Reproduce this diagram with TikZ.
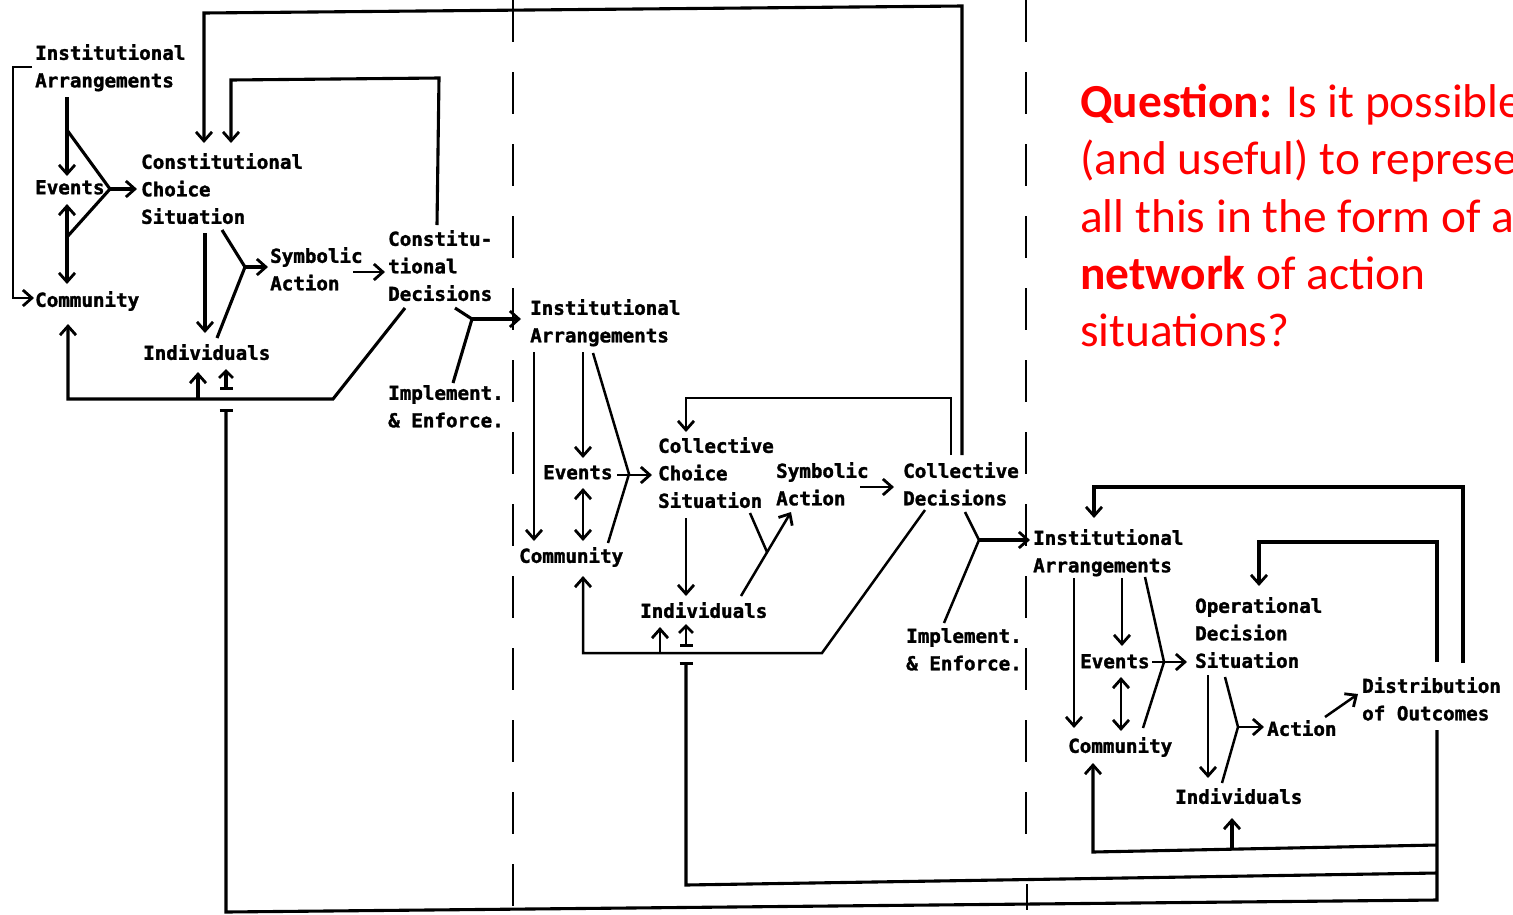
\documentclass[tikz,border=0pt]{standalone}
\usepackage{fontspec}
\newfontfamily\typefont{DejaVu Sans Mono Bold}[FakeBold=1.6]
\newfontfamily\slidefont{Carlito}
\usetikzlibrary{arrows.meta}
\definecolor{slidered}{RGB}{255,0,0}

\begin{document}
\begin{tikzpicture}[x=1pt,y=-1pt,
  lbl/.style={anchor=north west,inner sep=0pt,align=left,
    font=\typefont\fontsize{19.2}{27.5}\selectfont},
  ln/.style={line width=3.1pt},
  thinln/.style={line width=2.5pt},
  arr/.style={-{Straight Barb[length=9pt,width=16pt,line width=2.8pt]}},
  darr/.style={{Straight Barb[length=9pt,width=16pt,line width=2.8pt]}-{Straight Barb[length=9pt,width=16pt,line width=2.8pt]}},
  tee/.style={-{Bar[width=13pt,line width=2.8pt]}},
  barr/.style={{Bar[width=13pt,line width=2.8pt]}-{Straight Barb[length=7pt,width=14pt,line width=2.8pt]}},
  sep/.style={line width=2pt,dash pattern=on 42pt off 30pt},
  qline/.style={anchor=base west,inner sep=0pt,text=slidered,
    font=\slidefont\fontsize{47.4}{57.5}\selectfont}
]
\useasboundingbox (0,0) rectangle (1513,914);
\clip (0,0) rectangle (1513,914);

% ---------- constitutional level ----------
\node[lbl] (ia1) at (35,44)  {Institutional\\Arrangements};
\node[lbl] (ev1) at (35,180) {Events};
\node[lbl] (co1) at (35,291) {Community};
\node[lbl] (cc1) at (141,153) {Constitutional\\Choice\\Situation};
\node[lbl] (sa1) at (270,247) {Symbolic\\Action};
\node[lbl] (cd1) at (388,230) {Constitu-\\tional\\Decisions};
\node[lbl] (in1) at (143,344) {Individuals};
\node[lbl] (ie1) at (388,385) {Implement.\\\& Enforce.};

\path (32,67) coordinate (k1) (13,67) coordinate (k2)
      (13,298) coordinate (k3) (34,298) coordinate (k4)
      (67,97) coordinate (a1) (67,176) coordinate (a2)
      (67,130) coordinate (v1) (110,189) coordinate (v2) (67,237) coordinate (v3)
      (137,189) coordinate (a3)
      (67,204) coordinate (a4) (67,284) coordinate (a5)
      (205,233) coordinate (a6) (205,333) coordinate (a7)
      (222,230) coordinate (w1) (245,267) coordinate (w2) (217,338) coordinate (w3)
      (268,267) coordinate (a8)
      (353,272) coordinate (a9) (385,272) coordinate (a10)
      (405,308) coordinate (f1) (333,399) coordinate (f2)
      (68,399) coordinate (f3) (68,324) coordinate (f4)
      (198,399) coordinate (f5) (198,372) coordinate (f6)
      (226,390) coordinate (f7) (226,369) coordinate (f8)
      (455,308) coordinate (y1) (472,319) coordinate (y2) (453,383) coordinate (y3)
      (521,319) coordinate (y4);

\draw[line width=1.6pt,arr] (k1) -- (k2) -- (k3) -- (k4);
\draw[ln,arr] (a1) -- (a2);
\draw[ln] (v1) -- (v2) -- (v3);
\draw[ln,arr] (v2) -- (a3);
\draw[ln,darr] (a4) -- (a5);
\draw[ln,arr] (a6) -- (a7);
\draw[ln] (w1) -- (w2) -- (w3);
\draw[ln,arr] (w2) -- (a8);
\draw[thinln,arr] (a9) -- (a10);
\draw[ln,arr] (f1) -- (f2) -- (f3) -- (f4);
\draw[ln,arr] (f5) -- (f6);
\draw[ln,barr] (f7) -- (f8);
\draw[ln] (y1) -- (y2) -- (y3);
\draw[ln,arr] (y2) -- (y4);

% feedback loops into the constitutional choice situation
\path (962,455) coordinate (t1) (962,6) coordinate (t2)
      (204,13) coordinate (t3) (204,143) coordinate (t4)
      (437,225) coordinate (u1) (439,78) coordinate (u2)
      (231,80) coordinate (u3) (231,143) coordinate (u4);
\draw[ln,arr] (t1) -- (t2) -- (t3) -- (t4);
\draw[ln,arr] (u1) -- (u2) -- (u3) -- (u4);

% ---------- collective choice level ----------
\node[lbl] (ia2) at (530,299) {Institutional\\Arrangements};
\node[lbl] (ev2) at (543,465) {Events};
\node[lbl] (co2) at (519,547) {Community};
\node[lbl] (cc2) at (658,437) {Collective\\Choice\\Situation};
\node[lbl] (sa2) at (776,462) {Symbolic\\Action};
\node[lbl] (cd2) at (903,462) {Collective\\Decisions};
\node[lbl] (in2) at (640,602) {Individuals};
\node[lbl] (ie2) at (906,628) {Implement.\\\& Enforce.};

\path (534,352) coordinate (b1) (534,541) coordinate (b2)
      (583,352) coordinate (b3) (583,458) coordinate (b4)
      (593,353) coordinate (x1) (629,474) coordinate (x2) (608,543) coordinate (x3)
      (617,475) coordinate (b5) (652,475) coordinate (b6)
      (583,488) coordinate (b7) (583,541) coordinate (b8)
      (686,518) coordinate (b9) (686,596) coordinate (b10)
      (750,513) coordinate (z1) (767,552) coordinate (z2)
      (741,596) coordinate (z3) (791,512) coordinate (z4)
      (860,487) coordinate (b11) (894,487) coordinate (b12)
      (951,455) coordinate (l1) (951,398) coordinate (l2)
      (686,398) coordinate (l3) (686,432) coordinate (l4)
      (925,510) coordinate (g1) (822,653) coordinate (g2)
      (583,653) coordinate (g3) (583,576) coordinate (g4)
      (660,653) coordinate (g5) (660,627) coordinate (g6)
      (686,647) coordinate (g7) (686,624) coordinate (g8)
      (965,512) coordinate (h1) (979,540) coordinate (h2) (944,623) coordinate (h3)
      (1030,540) coordinate (h4);

\draw[thinln,arr] (b1) -- (b2);
\draw[thinln,arr] (b3) -- (b4);
\draw[thinln] (x1) -- (x2) -- (x3);
\draw[thinln,arr] (b5) -- (b6);
\draw[thinln,darr] (b7) -- (b8);
\draw[thinln,arr] (b9) -- (b10);
\draw[thinln] (z1) -- (z2);
\draw[thinln,arr] (z3) -- (z4);
\draw[thinln,arr] (b11) -- (b12);
\draw[thinln,arr] (l1) -- (l2) -- (l3) -- (l4);
\draw[thinln,arr] (g1) -- (g2) -- (g3) -- (g4);
\draw[thinln,arr] (g5) -- (g6);
\draw[thinln,barr] (g7) -- (g8);
\draw[thinln] (h1) -- (h2) -- (h3);
\draw[ln,arr] (h2) -- (h4);

% ---------- operational level ----------
\node[lbl] (ia3) at (1033,529) {Institutional\\Arrangements};
\node[lbl] (ev3) at (1080,654) {Events};
\node[lbl] (co3) at (1068,737) {Community};
\node[lbl] (od3) at (1195,597) {Operational\\Decision\\Situation};
\node[lbl] (ac3) at (1267,720) {Action};
\node[lbl] (do3) at (1362,677) {Distribution\\of Outcomes};
\node[lbl] (in3) at (1175,788) {Individuals};

\path (1074,578) coordinate (c1) (1074,728) coordinate (c2)
      (1122,578) coordinate (c3) (1122,646) coordinate (c4)
      (1145,577) coordinate (s1) (1164,662) coordinate (s2) (1143,728) coordinate (s3)
      (1152,662) coordinate (c5) (1187,662) coordinate (c6)
      (1121,677) coordinate (c7) (1121,731) coordinate (c8)
      (1208,675) coordinate (c9) (1208,778) coordinate (c10)
      (1225,677) coordinate (r1) (1238,727) coordinate (r2) (1222,783) coordinate (r3)
      (1264,727) coordinate (c11)
      (1325,717) coordinate (c12) (1358,694) coordinate (c13)
      (1463,663) coordinate (o1) (1463,487) coordinate (o2)
      (1094,487) coordinate (o3) (1094,518) coordinate (o4)
      (1437,662) coordinate (n1) (1437,542) coordinate (n2)
      (1259,542) coordinate (n3) (1259,586) coordinate (n4)
      (1437,730) coordinate (d1) (1437,900) coordinate (d2)
      (226,912) coordinate (d3) (226,409) coordinate (d4)
      (1437,873) coordinate (e1) (686,885) coordinate (e2) (686,662) coordinate (e3)
      (1437,845) coordinate (m1) (1093,852) coordinate (m2) (1093,763) coordinate (m3)
      (1232,850) coordinate (m4) (1232,818) coordinate (m5);

\draw[thinln,arr] (c1) -- (c2);
\draw[thinln,arr] (c3) -- (c4);
\draw[thinln] (s1) -- (s2) -- (s3);
\draw[thinln,arr] (c5) -- (c6);
\draw[thinln,darr] (c7) -- (c8);
\draw[thinln,arr] (c9) -- (c10);
\draw[thinln] (r1) -- (r2) -- (r3);
\draw[thinln,arr] (r2) -- (c11);
\draw[thinln,arr] (c12) -- (c13);
\draw[ln,arr] (o1) -- (o2) -- (o3) -- (o4);
\draw[ln,arr] (n1) -- (n2) -- (n3) -- (n4);
\draw[ln,tee] (d1) -- (d2) -- (d3) -- (d4);
\draw[ln,tee] (e1) -- (e2) -- (e3);
\draw[ln,arr] (m1) -- (m2) -- (m3);
\draw[ln,arr] (m4) -- (m5);

% ---------- level separators ----------
\path (513,0) coordinate (sa) (513,914) coordinate (sb)
      (1026,0) coordinate (sc) (1026,856) coordinate (sd)
      (1027,884) coordinate (se) (1027,910) coordinate (sf);
\draw[sep] (sa) -- (sb);
\draw[sep] (sc) -- (sd);
\draw[line width=1.5pt] (se) -- (sf);

% ---------- question ----------
\node[qline] (q1) at (1080,117) {\textbf{Question:} Is it possible};
\node[qline] (q2) at (1080,174) {(and useful) to represent};
\node[qline] (q3) at (1080,232) {all this in the form of a};
\node[qline] (q4) at (1080,289) {\textbf{network} of action};
\node[qline] (q5) at (1080,346) {situations?};
\end{tikzpicture}
\end{document}
